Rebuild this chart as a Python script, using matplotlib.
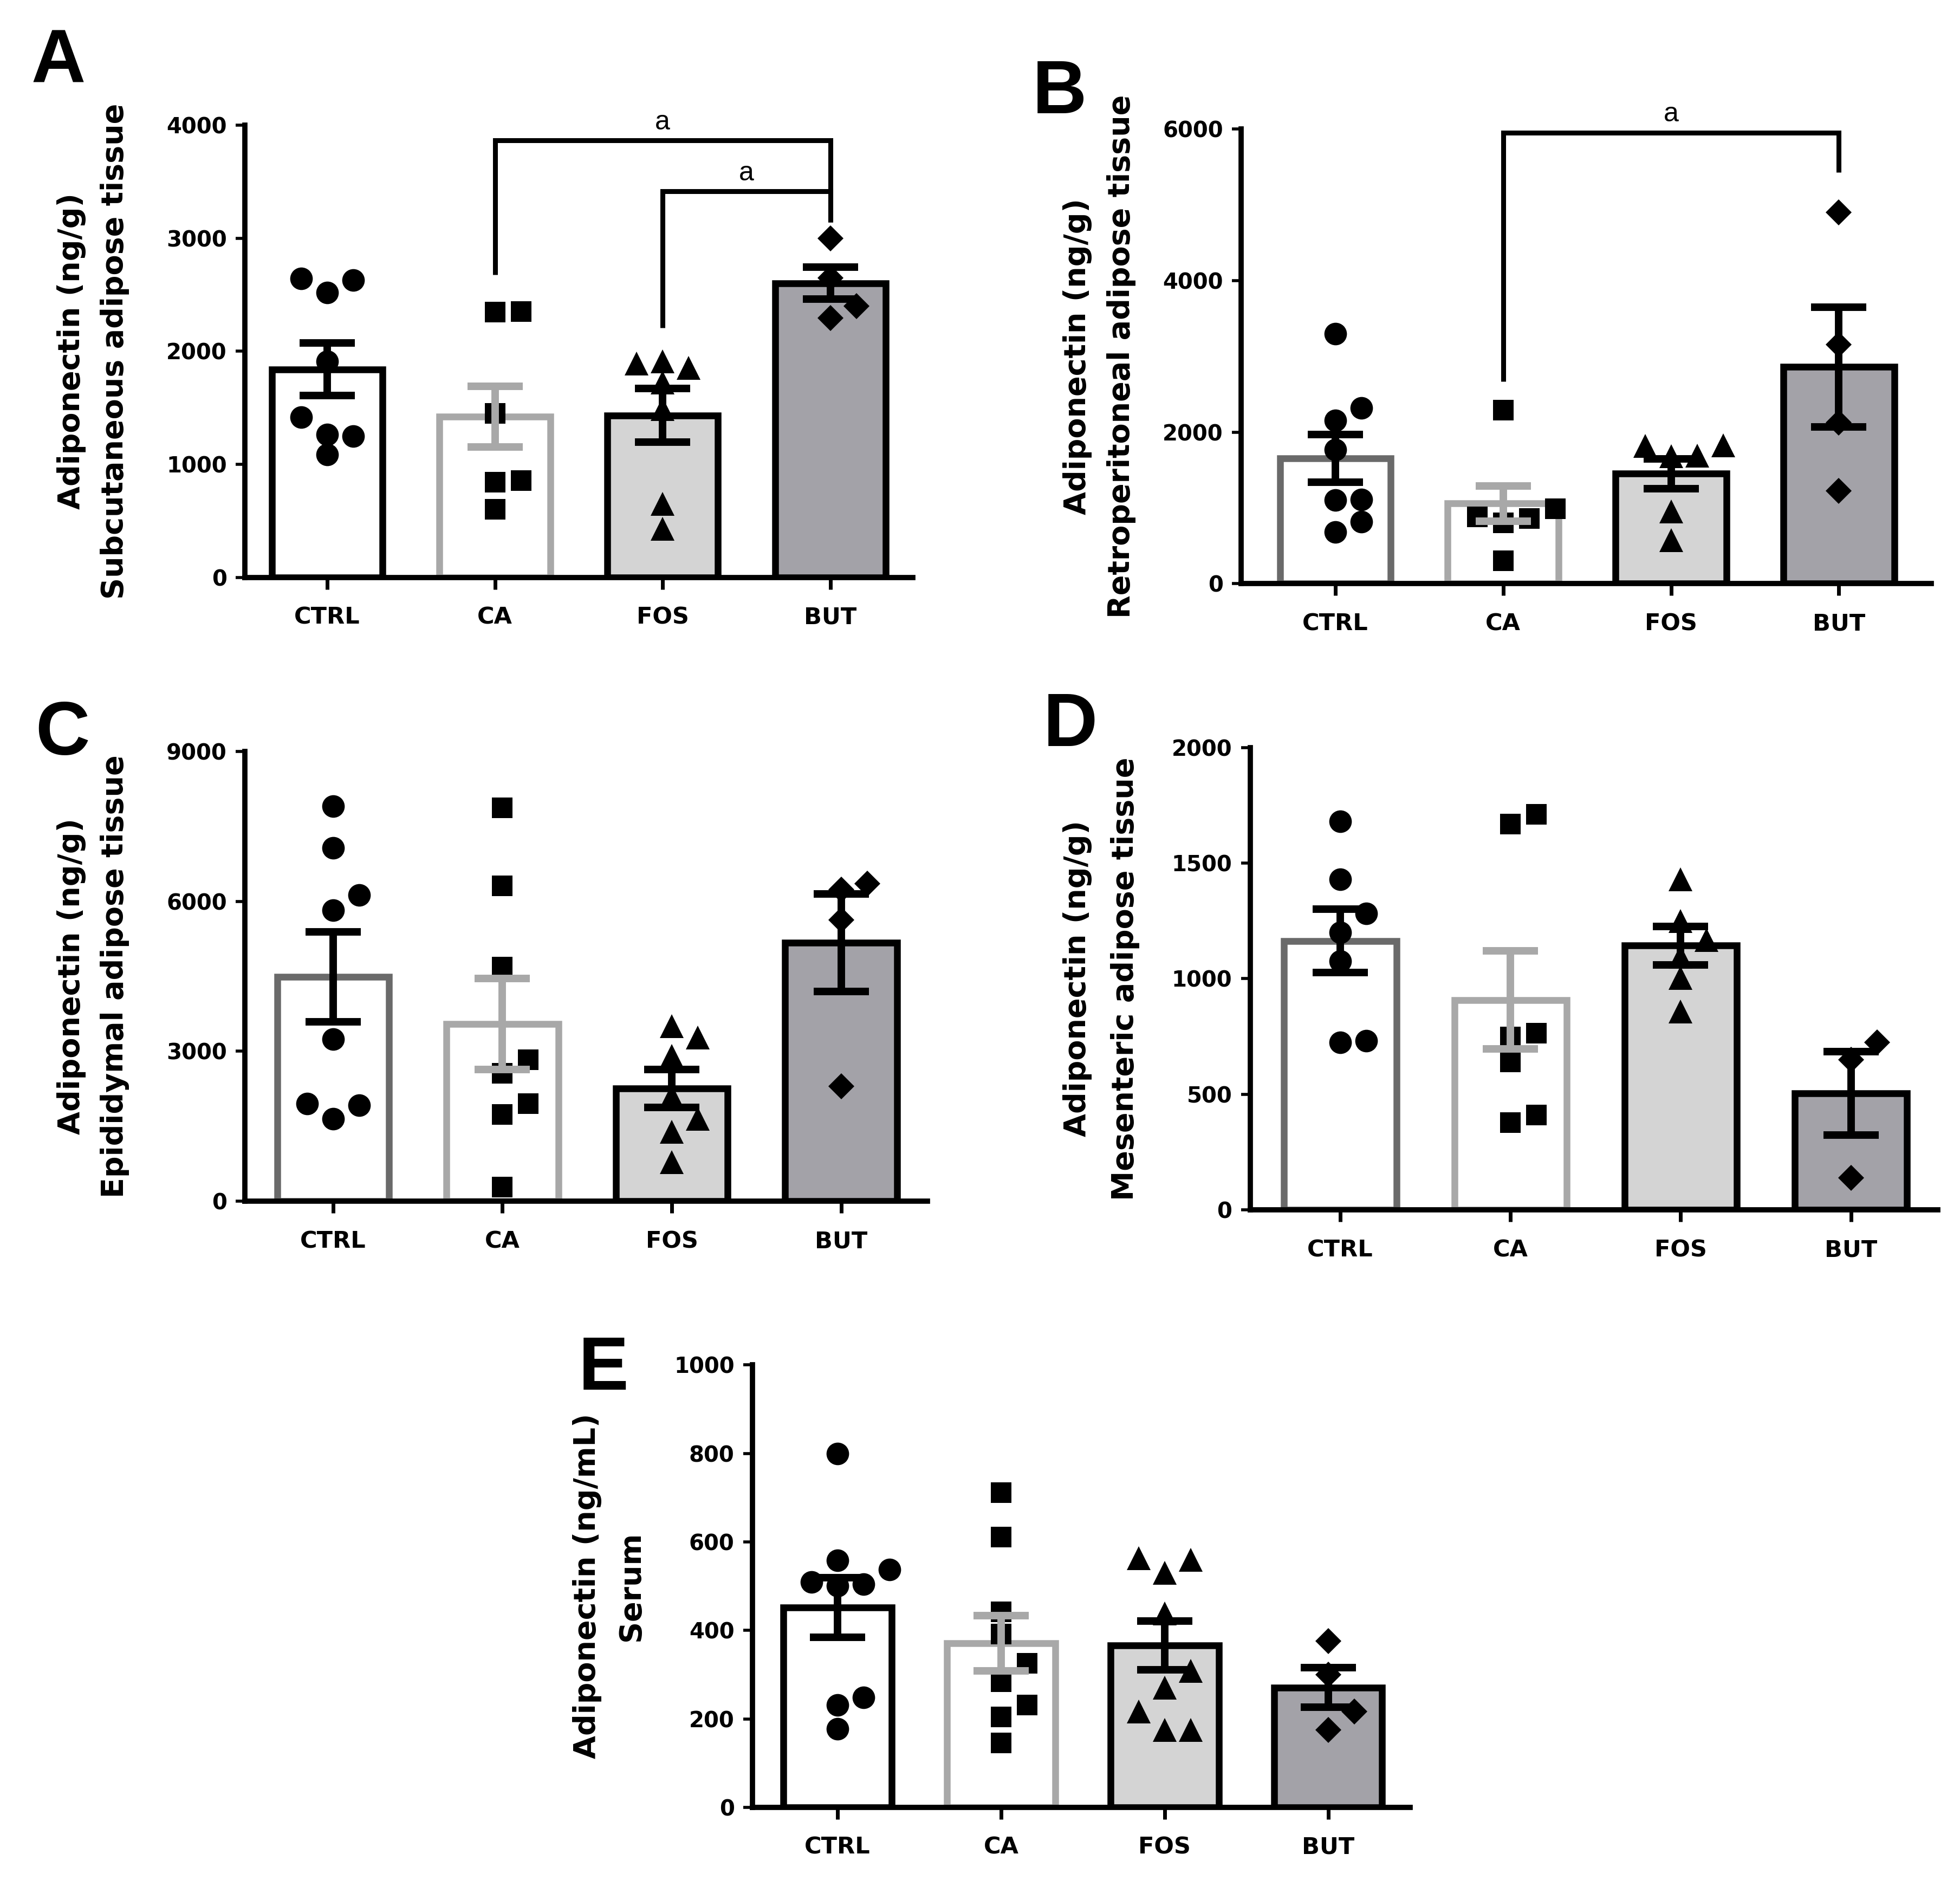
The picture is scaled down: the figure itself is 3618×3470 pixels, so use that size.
import numpy as np
import matplotlib
matplotlib.use('Agg')
import matplotlib.pyplot as plt

plt.rcParams['font.family'] = ['DejaVu Sans']
plt.rcParams['font.weight'] = 'bold'

groups = ['CTRL', 'CA', 'FOS', 'BUT']

# A - subcutaneous adipose tissue (ng/g)
a_ctrl = [2630, 2520, 2645, 1909, 1416, 1263, 1252, 1088]
a_ca = [2350, 2345, 1450, 858, 843, 602]
a_fos = [1909, 1854, 1890, 1726, 1489, 650, 431]
a_but = [2996, 2650, 2401, 2292]
a_means = [1840, 1423, 1434, 2602]
a_sems = [232, 268, 237, 140]

# B - retroperitoneal adipose tissue (ng/g)
b_ctrl = [3300, 2320, 2155, 1765, 1110, 1100, 815, 680]
b_ca = [2287, 990, 885, 859, 800, 300]
b_fos = [1824, 1820, 1688, 1684, 953, 572]
b_but = [4899, 3157, 2123, 1225]
b_means = [1656, 1060, 1450, 2858]
b_sems = [315, 232, 200, 790]

# C - epididymal adipose tissue (ng/g)
c_ctrl = [7902, 7068, 6121, 5818, 3242, 1955, 1917, 1652]
c_ca = [7864, 6311, 4682, 2826, 2561, 1955, 1742, 288]
c_fos = [3508, 3280, 2902, 2106, 1652, 1386, 780]
c_but = [6348, 6235, 5629, 2295]
c_means = [4492, 3545, 2258, 5174]
c_sems = [898, 910, 378, 973]

# D - mesenteric adipose tissue (ng/g)
d_ctrl = [1680, 1430, 1282, 1200, 1077, 732, 724]
d_ca = [1711, 1669, 765, 748, 641, 411, 378]
d_fos = [1431, 1250, 1168, 1094, 1003, 859]
d_but = [724, 650, 140]
d_means = [1163, 908, 1143, 505]
d_sems = [137, 212, 84, 181]

# E - serum (ng/mL)
e_ctrl = [800, 558, 537, 509, 505, 501, 249, 231, 177]
e_ca = [711, 611, 442, 392, 326, 284, 231, 205, 146]
e_fos = [563, 559, 530, 438, 309, 271, 217, 175, 175]
e_but = [376, 300, 217, 175]
e_means = [452, 371, 366, 271]
e_sems = [67, 62, 55, 45]

panels = [
    dict(letter='A', points=[a_ctrl, a_ca, a_fos, a_but], means=a_means, sems=a_sems,
         ymax=4000, ystep=1000, unit='Adiponectin (ng/g)', tissue='Subcutaneous adipose tissue',
         rect=[0.1250, 0.6928, 0.3406, 0.2407], xlim=(-0.49, 3.49), ctrl_edge='black',
         lab_x=(0.0364, 0.0587), letter_xy=(0.016, 0.9853),
         brackets=[(1, 3, 2675, 3867, 3140), (2, 3, 2210, 3414, 3140)]),
    dict(letter='B', points=[b_ctrl, b_ca, b_fos, b_but], means=b_means, sems=b_sems,
         ymax=6000, ystep=2000, unit='Adiponectin (ng/g)', tissue='Retroperitoneal adipose tissue',
         rect=[0.6333, 0.6895, 0.3520, 0.2420], xlim=(-0.56, 3.55), ctrl_edge='#6a6a6a',
         lab_x=(0.5497, 0.5721), letter_xy=(0.5268, 0.9689),
         brackets=[(1, 3, 2670, 5951, 5423)]),
    dict(letter='C', points=[c_ctrl, c_ca, c_fos, c_but], means=c_means, sems=c_sems,
         ymax=9000, ystep=3000, unit='Adiponectin (ng/g)', tissue='Epididymal adipose tissue',
         rect=[0.1250, 0.3610, 0.3482, 0.2394], xlim=(-0.52, 3.51), ctrl_edge='#6a6a6a',
         lab_x=(0.0364, 0.0587), letter_xy=(0.018, 0.6277), brackets=[]),
    dict(letter='D', points=[d_ctrl, d_ca, d_fos, d_but], means=d_means, sems=d_sems,
         ymax=2000, ystep=500, unit='Adiponectin (ng/g)', tissue='Mesenteric adipose tissue',
         rect=[0.6378, 0.3564, 0.3508, 0.2460], xlim=(-0.53, 3.51), ctrl_edge='#6a6a6a',
         lab_x=(0.5497, 0.5740), letter_xy=(0.5323, 0.6323), brackets=[]),
    dict(letter='E', points=[e_ctrl, e_ca, e_fos, e_but], means=e_means, sems=e_sems,
         ymax=1000, ystep=200, unit='Adiponectin (ng/mL)', tissue='Serum',
         rect=[0.3839, 0.0386, 0.3355, 0.2354], xlim=(-0.52, 3.50), ctrl_edge='black',
         lab_x=(0.2997, 0.3221), letter_xy=(0.2952, 0.2899), brackets=[]),
]

markers = [('o', 30), ('s', 27), ('^', 32), ('D', 24)]
fills = ['white', 'white', '#d4d4d4', '#a3a2a8']
ca_grey = '#a8a8a8'


def swarm(ax, values, diam=36.0, step=48.0):
    # simple beeswarm: offsets in pixels, converted back to data units
    p0 = ax.transData.transform((0, 0))
    p1 = ax.transData.transform((1, 1))
    sx, sy = p1[0] - p0[0], p1[1] - p0[1]
    cands = [0]
    for n in range(1, 6):
        cands += [n, -n]
    placed = []
    offs = np.zeros(len(values))
    for i in np.argsort(values, kind='stable'):
        y = values[i] * sy
        for c in cands:
            x = c * step
            if all(np.hypot(x - px, y - py) >= diam for px, py in placed):
                break
        placed.append((x, y))
        offs[i] = x / sx
    return offs


fig = plt.figure(figsize=(36.18, 34.70), dpi=100)

for p in panels:
    ax = fig.add_axes(p['rect'])
    ax.set_xlim(*p['xlim'])
    ax.set_ylim(0, p['ymax'])
    xs = np.arange(len(groups))
    edges = [p['ctrl_edge'], ca_grey, 'black', 'black']
    ax.bar(xs, p['means'], width=0.66, color=fills, edgecolor=edges, linewidth=9, zorder=2)

    for i, vals in enumerate(p['points']):
        vals = np.array(vals, dtype=float)
        off = swarm(ax, vals)
        m, ms = markers[i]
        ax.plot(xs[i] + off, vals, ls='none', marker=m, ms=ms, color='black',
                markeredgewidth=0, zorder=3)

    for i in range(len(groups)):
        ecol = ca_grey if i == 1 else 'black'
        ax.errorbar(xs[i], p['means'][i], yerr=p['sems'][i], fmt='none', ecolor=ecol,
                    elinewidth=10, capsize=37, capthick=10, zorder=4)

    for g1, g2, foot1, top, foot2 in p['brackets']:
        ax.plot([g1, g1, g2, g2], [foot1, top, top, foot2], color='black', lw=6.5,
                clip_on=False, solid_joinstyle='miter', solid_capstyle='butt', zorder=5)
        ax.text((g1 + g2) / 2, top + p['ymax'] * 0.012, 'a', ha='center', va='bottom',
                fontsize=36, fontweight='normal', family='Liberation Sans', clip_on=False)

    ax.spines['top'].set_visible(False)
    ax.spines['right'].set_visible(False)
    for s in ['left', 'bottom']:
        ax.spines[s].set_linewidth(7)
    ax.spines['left'].set_bounds(0, p['ymax'])
    ax.set_yticks(np.arange(0, p['ymax'] + 1, p['ystep']))
    ax.set_xticks(xs)
    ax.set_xticklabels(groups)
    ax.tick_params(axis='y', labelsize=29, width=4, length=12, pad=12)
    ax.tick_params(axis='x', labelsize=31, width=5, length=16, pad=22)
    for lab in ax.get_xticklabels() + ax.get_yticklabels():
        lab.set_fontweight('bold')

    r = p['rect']
    yc = r[1] + r[3] / 2
    fig.text(p['lab_x'][0], yc, p['unit'], rotation=90, ha='center', va='center',
             fontsize=40, fontweight='bold')
    fig.text(p['lab_x'][1], yc, p['tissue'], rotation=90, ha='center', va='center',
             fontsize=40, fontweight='bold')
    fig.text(p['letter_xy'][0], p['letter_xy'][1], p['letter'], ha='left', va='top',
             fontsize=100, fontweight='bold', family='Liberation Sans')

fig.savefig('out.png', dpi=100)
